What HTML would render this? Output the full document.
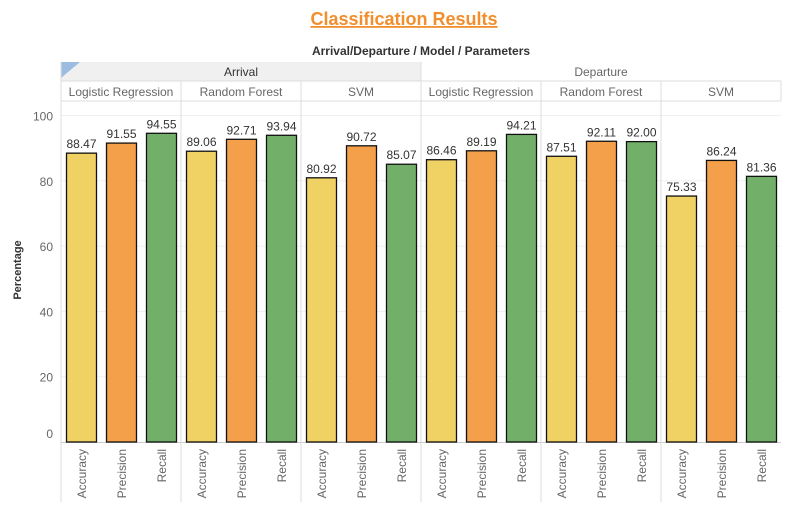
<!DOCTYPE html>
<html><head><meta charset="utf-8"><style>
body{margin:0;background:#fff;width:810px;height:511px;overflow:hidden;font-family:"Liberation Sans",sans-serif}
</style></head><body>
<svg id="chart" width="810" height="511" xmlns="http://www.w3.org/2000/svg" font-family="Liberation Sans, sans-serif">
<text x="404" y="25" text-anchor="middle" font-size="18" font-weight="bold" fill="#f28e2b" text-decoration="underline">Classification Results</text>
<text x="421" y="55" text-anchor="middle" font-size="12" font-weight="bold" fill="#333">Arrival/Departure / Model / Parameters</text>
<rect x="61" y="62" width="360" height="19" fill="#f0f0f0"/>
<polygon points="61,62 80,62 61,78" fill="#9dbde0"/>
<text transform="translate(21,270) rotate(-90)" text-anchor="middle" font-size="11" font-weight="bold" fill="#333">Percentage</text>
<g id="g"></g>
</svg>
<script>
const groups = ["Arrival","Departure"];
const models = ["Logistic Regression","Random Forest","SVM"];
const params = ["Accuracy","Precision","Recall"];
const accuracy = [88.47,89.06,80.92,86.46,87.51,75.33];
const precision = [91.55,92.71,90.72,89.19,92.11,86.24];
const recall = [94.55,93.94,85.07,94.21,92.00,81.36];
const yTicks = [0,20,40,60,80,100];
const colors = ["#f0d264","#f4a04a","#72b06a"];
const NS="http://www.w3.org/2000/svg";
const g=document.getElementById('g');
const L=61,PW=120,Y0=442,K=3.265;
const y=v=>Y0-v*K;
function mk(t,a,txt){const e=document.createElementNS(NS,t);for(const k in a)e.setAttribute(k,a[k]);if(txt!=null)e.textContent=txt;g.appendChild(e);return e;}
yTicks.forEach(t=>{
  if(t>0){const gl=mk('line',{x1:L,x2:781,y1:y(t),y2:y(t),stroke:'#f0f0f0'});
  
  }
  const tx=mk('text',{x:53,y:(t===0?y(t)-4:y(t)+5),'text-anchor':'end','font-size':12,fill:'#666'},t);
  
  
});
groups.forEach((gr,i)=>{
  const t=mk('text',{x:L+i*360+180,y:76,'text-anchor':'middle','font-size':12,fill:i==0?'#333':'#666'},gr);
  
  
});
mk('line',{x1:L,x2:781,y1:81,y2:81,stroke:'#ddd'});
mk('line',{x1:L,x2:781,y1:101,y2:101,stroke:'#ddd'});
mk('line',{x1:421,x2:421,y1:62,y2:502,stroke:'#ddd'});
mk('line',{x1:L,x2:L,y1:62,y2:502,stroke:'#ddd'});
mk('line',{x1:781,x2:781,y1:81,y2:101,stroke:'#ddd'});
mk('line',{x1:L,x2:781,y1:Y0+0.5,y2:Y0+0.5,stroke:'#ccc'});
const series=[accuracy,precision,recall];
for(let p=0;p<6;p++){
  const px=L+p*PW;
  if(p%3!==0){mk('line',{x1:px,x2:px,y1:81,y2:502,stroke:'#ddd'});}
  const mt=mk('text',{x:px+60,y:96,'text-anchor':'middle','font-size':12,fill:'#666'},models[p%3]);
  
  
  series.forEach((s,j)=>{
    const v=s[p],bx=px+5+j*40;
    const r=mk('rect',{x:bx+0.5,y:y(v),width:30,height:Y0-y(v),fill:colors[j],stroke:'#111','stroke-width':1.3});
    
    
    const lb=mk('text',{x:bx+15.5,y:y(v)-5,'text-anchor':'middle','font-size':12,fill:'#333'},v.toFixed(2));
    
    
    const xl=mk('text',{transform:`translate(${bx+20},${449}) rotate(-90)`,'text-anchor':'end','font-size':12,fill:'#666'},params[j]);
    
    
  });
}
</script>
</body></html>
